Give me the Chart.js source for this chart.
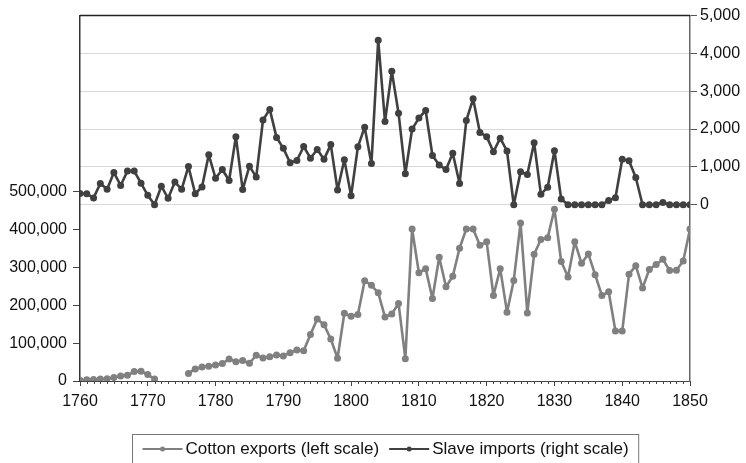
<!DOCTYPE html>
<html>
<head>
<meta charset="utf-8">
<script src="https://cdn.jsdelivr.net/npm/chart.js@4"></script>
<style>
html,body{margin:0;padding:0;background:#fff;}
#wrap{width:746px;height:463px;position:relative;}
</style>
</head>
<body>
<div id="wrap"><canvas id="c" width="746" height="463"></canvas></div>
<script>
const years = [];
for (let y = 1760; y <= 1850; y++) years.push(y);

const cottonExports = [
  2000, 3000, 4000, 5000, 6000, 9000, 13000, 15000, 25000, 26000,
  17000, 5000, null, null, null, null, 20000, 32000, 37000, 39000,
  42000, 46000, 58000, 51000, 54000, 47000, 68000, 61000, 64000, 69000,
  66000, 75000, 82000, 80000, 123000, 164000, 149000, 111000, 60000, 179000,
  171000, 176000, 265000, 253000, 233000, 169000, 177000, 205000, 59000, 402000,
  286000, 297000, 218000, 327000, 249000, 277000, 351000, 402000, 402000, 359000,
  368000, 226000, 297000, 182000, 266000, 418000, 180000, 335000, 374000, 379000,
  454000, 316000, 275000, 368000, 311000, 336000, 281000, 226000, 236000, 132000,
  132000, 282000, 305000, 246000, 295000, 308000, 322000, 292000, 293000, 317000,
  402000
];

const slaveImports = [
  300, 290, 180, 560, 410, 850, 510, 890, 890, 570,
  250, 0, 490, 170, 600, 410, 1010, 290, 470, 1320,
  700, 930, 640, 1800, 400, 1020, 730, 2240, 2520, 1780,
  1490, 1110, 1170, 1540, 1230, 1460, 1200, 1590, 390, 1190,
  240, 1530, 2050, 1090, 4350, 2200, 3530, 2420, 820, 2000,
  2290, 2490, 1300, 1050, 930, 1360, 560, 2230, 2800, 1910,
  1800, 1400, 1760, 1420, 0, 870, 800, 1640, 280, 460,
  1430, 150, 0, 0, 0, 0, 0, 0, 115, 185,
  1200, 1160, 720, 0, 0, 0, 60, 0, 0, 0,
  0
];

const leftTicks = [0, 100000, 200000, 300000, 400000, 500000];
const rightTicks = [0, 1000, 2000, 3000, 4000, 5000];
const xTicks = [1760, 1770, 1780, 1790, 1800, 1810, 1820, 1830, 1840, 1850];
const seriesLabels = ['Cotton exports (left scale)', 'Slave imports (right scale)'];

const COTTON = '#808080';
const SLAVE = '#404040';
const FONT = '"Liberation Sans", Arial, Helvetica, sans-serif';

function fmt(v) {
  return String(Math.round(v)).replace(/\B(?=(\d{3})+(?!\d))/g, ',');
}

const framePlugin = {
  id: 'frame',
  afterDraw(chart) {
    const ctx = chart.ctx;
    const a = chart.chartArea;
    const xs = chart.scales.x;
    ctx.save();
    // top border
    ctx.strokeStyle = '#222';
    ctx.lineWidth = 1.5;
    ctx.beginPath();
    ctx.moveTo(a.left, a.top);
    ctx.lineTo(a.right, a.top);
    ctx.stroke();
    // minor ticks
    ctx.strokeStyle = '#444';
    ctx.lineWidth = 1;
    ctx.beginPath();
    for (const y of years) {
      if (y % 10 === 0) continue;
      const px = Math.round(xs.getPixelForValue(y)) + 0.5;
      ctx.moveTo(px, a.bottom);
      ctx.lineTo(px, a.bottom + 3);
    }
    ctx.stroke();

    // legend
    ctx.font = '17px ' + FONT;
    ctx.textBaseline = 'middle';
    const w1 = ctx.measureText(seriesLabels[0]).width;
    const w2 = ctx.measureText(seriesLabels[1]).width;
    const lineW = 40, gap = 3, sep = 10, pad = 10;
    const total = pad + lineW + gap + w1 + sep + lineW + gap + w2 + pad;
    const cx = (a.left + a.right) / 2;
    const bx = Math.round(cx - total / 2) + 0.5;
    const by = 434.5;
    ctx.strokeStyle = '#777';
    ctx.lineWidth = 1;
    ctx.strokeRect(bx, by, total, 40);
    const ly = 449;
    const cols = [COTTON, SLAVE];
    const ws = [w1, w2];
    let x = bx + pad;
    for (let i = 0; i < 2; i++) {
      ctx.strokeStyle = cols[i];
      ctx.lineWidth = 2;
      ctx.beginPath();
      ctx.moveTo(x, ly);
      ctx.lineTo(x + lineW, ly);
      ctx.stroke();
      ctx.fillStyle = cols[i];
      ctx.beginPath();
      ctx.arc(x + lineW / 2, ly, 2.5, 0, Math.PI * 2);
      ctx.fill();
      ctx.fillStyle = '#111';
      ctx.textAlign = 'left';
      ctx.fillText(seriesLabels[i], x + lineW + gap, ly + 0.5);
      x += lineW + gap + ws[i] + sep;
    }
    ctx.restore();
  }
};

new Chart(document.getElementById('c'), {
  type: 'line',
  data: {
    labels: years,
    datasets: [
      {
        label: seriesLabels[0],
        data: years.map((y, i) => ({x: y, y: cottonExports[i]})),
        yAxisID: 'yL',
        borderColor: COTTON,
        backgroundColor: COTTON,
        borderWidth: 2.6,
        borderJoinStyle: 'round',
        borderCapStyle: 'round',
        pointRadius: 3.5,
        pointHoverRadius: 3.5,
        pointBorderWidth: 0,
        spanGaps: false,
        tension: 0
      },
      {
        label: seriesLabels[1],
        data: years.map((y, i) => ({x: y, y: slaveImports[i]})),
        yAxisID: 'yR',
        borderColor: SLAVE,
        backgroundColor: SLAVE,
        borderWidth: 2.6,
        borderJoinStyle: 'round',
        borderCapStyle: 'round',
        pointRadius: 3.5,
        pointHoverRadius: 3.5,
        pointBorderWidth: 0,
        tension: 0
      }
    ]
  },
  options: {
    responsive: false,
    animation: false,
    events: [],
    layout: {padding: {left: 0, right: 0, top: 15, bottom: 42}},
    plugins: {legend: {display: false}, tooltip: {enabled: false}},
    scales: {
      x: {
        type: 'linear',
        min: 1760,
        max: 1850,
        afterBuildTicks: s => { s.ticks = xTicks.map(v => ({value: v})); },
        afterFit: s => { s.height = 40; },
        ticks: {
          autoSkip: false,
          maxRotation: 0,
          padding: 6,
          color: '#111',
          font: {family: FONT, size: 16},
          callback: v => String(v)
        },
        grid: {drawOnChartArea: false, drawTicks: true, tickLength: 5, tickColor: '#444'},
        border: {display: true, color: '#444', width: 1}
      },
      yL: {
        type: 'linear',
        position: 'left',
        min: 0,
        max: 966000,
        afterBuildTicks: s => { s.ticks = leftTicks.map(v => ({value: v})); },
        afterFit: s => { s.width = 80; },
        ticks: {
          padding: 6,
          color: '#111',
          font: {family: FONT, size: 16},
          callback: v => fmt(v)
        },
        grid: {drawOnChartArea: false, drawTicks: true, tickLength: 7, tickColor: '#444'},
        border: {display: true, color: '#333', width: 1.5}
      },
      yR: {
        type: 'linear',
        position: 'right',
        min: -4660,
        max: 5000,
        afterBuildTicks: s => { s.ticks = rightTicks.map(v => ({value: v})); },
        afterFit: s => { s.width = 56; },
        ticks: {
          padding: 3,
          color: '#111',
          font: {family: FONT, size: 16},
          callback: v => fmt(v)
        },
        grid: {
          drawOnChartArea: true,
          drawTicks: true,
          tickLength: 7,
          color: c => (c.tick && c.tick.value === 5000) ? 'rgba(0,0,0,0)' : '#d9d9d9',
          tickColor: '#555',
          lineWidth: 1
        },
        border: {display: true, color: '#666', width: 1.5}
      }
    }
  },
  plugins: [framePlugin]
});
</script>
</body>
</html>
